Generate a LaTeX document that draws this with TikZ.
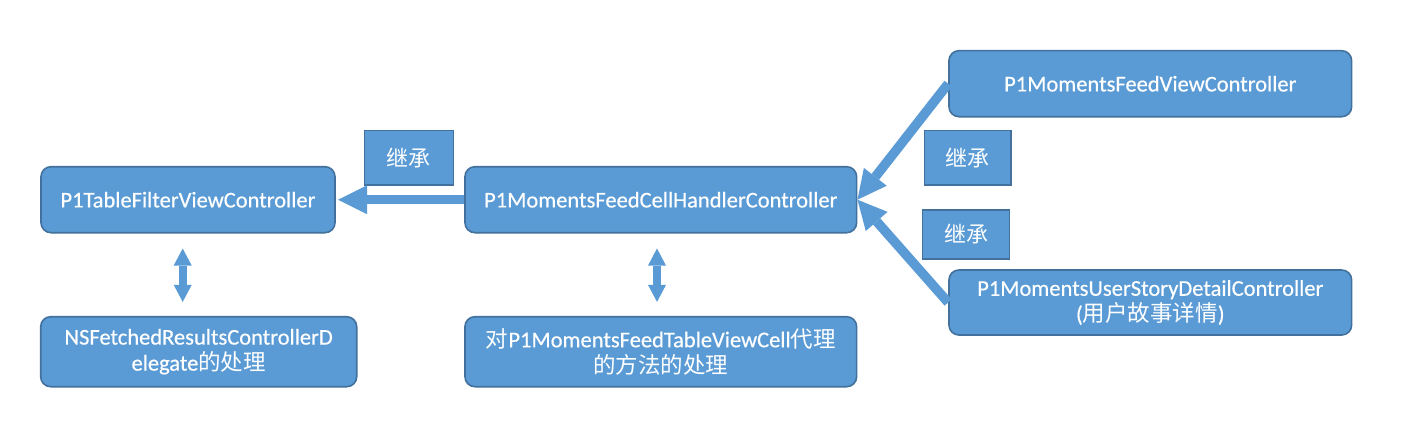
\documentclass[tikz,border=0pt]{standalone}
\usepackage{fontspec}
\setmainfont{Carlito}[FakeBold=0.4]
\newfontfamily\cjk{Noto Sans CJK SC}
\usetikzlibrary{arrows.meta}
\definecolor{boxfill}{HTML}{5B9BD5}
\definecolor{boxline}{HTML}{41719C}
\begin{document}
\begin{tikzpicture}[x=1pt,y=-1pt,
  box/.style={draw=boxline, fill=boxfill, line width=1.6pt, rounded corners=10pt, text=white,
    font=\fontsize{22.5}{26}\selectfont, align=center, inner sep=0pt},
  tagbox/.style={draw=boxline, fill=boxfill, line width=1.6pt, text=white,
    font=\fontsize{22}{26}\selectfont\cjk, inner sep=0pt},
  bigarrow/.style={draw=boxfill, line width=9.5pt, -{Triangle[length=29pt,width=29pt,line width=0pt]}},
  dblarrow/.style={draw=boxfill, line width=8pt,
    {Triangle[length=17pt,width=18pt,line width=0pt]}-{Triangle[length=17pt,width=18pt,line width=0pt]}}]
\fill[white] (0,0) rectangle (1412,444);
\useasboundingbox (0,0) rectangle (1412,444);

\node[box, minimum width=294pt, minimum height=66pt] (tf) at (188,199.7) {P1TableFilterViewController};
\node[box, minimum width=316pt, minimum height=70pt] (ns) at (198.7,351.7) {NSFetchedResultsControllerD\\elegate{\cjk 的处理}};
\node[box, minimum width=391.7pt, minimum height=66pt] (ch) at (660.8,199.7) {P1MomentsFeedCellHandlerController};
\node[box, minimum width=391.7pt, minimum height=70pt] (dm) at (660.8,351.7) {{\cjk 对}P1MomentsFeedTableViewCell{\cjk 代理}\\{\cjk 的方法的处理}};
\node[box, minimum width=402.7pt, minimum height=66pt] (fv) at (1150.3,83.7) {P1MomentsFeedViewController};
\node[box, minimum width=402.7pt, minimum height=65pt] (us) at (1150.3,302.5) {P1MomentsUserStoryDetailController\\({\cjk 用户故事详情})};

\node[tagbox, minimum width=89pt, minimum height=54.3pt] (j1) at (408.8,157.8) {继承};
\node[tagbox, minimum width=86.7pt, minimum height=54.3pt] (j2) at (967.7,157.8) {继承};
\node[tagbox, minimum width=86.7pt, minimum height=49pt] (j3) at (966,234.5) {继承};

\draw[bigarrow, shorten >=2.3pt] (ch.west) -- (tf.east);
\draw[bigarrow] (fv.west) -- (ch.east);
\draw[bigarrow] (us.west) -- (ch.east);

\draw[dblarrow, shorten <=15pt, shorten >=14pt] ([xshift=-5.3pt]tf.south) -- ([xshift=-16pt]ns.north);
\draw[dblarrow, shorten <=15pt, shorten >=14pt] ([xshift=-3.8pt]ch.south) -- ([xshift=-3.8pt]dm.north);
\end{tikzpicture}
\end{document}
